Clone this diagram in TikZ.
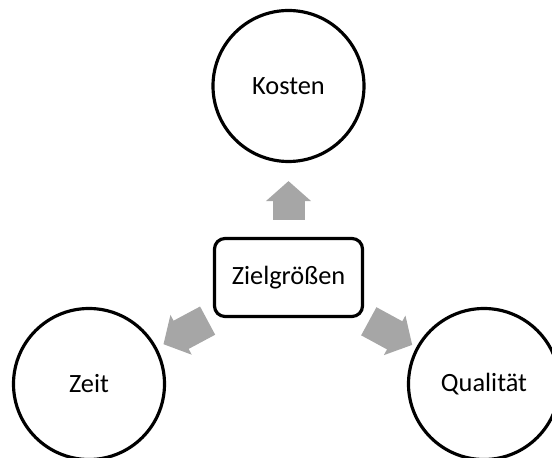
\documentclass[tikz,border=0pt]{standalone}
\usepackage{fontspec}
\setmainfont{Carlito}
\usepackage{xcolor}
\usetikzlibrary{arrows.meta}
\definecolor{pfeilgrau}{RGB}{166,166,166}

\begin{document}
\begin{tikzpicture}[x=0.03cm,y=-0.03cm,
every node/.style={font=\fontsize{22.5}{27}\selectfont},
kreis/.style={circle,draw,line width=2.7pt,inner sep=0pt,minimum size=4.53cm},
pfeil/.style={draw=pfeilgrau,line width=0.96cm,-{Triangle[width=1.32cm,length=0.6cm]}}]
\useasboundingbox (0,0) rectangle (552,458);
\node[kreis](kosten) at (288.5,86){Kosten};
\node[kreis](zeit) at (89,384){Zeit};
\node[kreis](qualitaet) at (484,384){Qualität};
\node[draw,rounded corners=9pt,line width=2.7pt,inner sep=0pt,minimum width=4.44cm,minimum height=2.34cm](ziel) at (288.5,277.5){Zielgrößen};
\draw[pfeil,shorten <=0.51cm,shorten >=0.54cm](ziel)--(kosten);
\draw[pfeil,shorten <=0.18cm,shorten >=0.22cm](ziel)--(zeit);
\draw[pfeil,shorten <=0.2cm,shorten >=0.14cm](ziel)--(qualitaet);
\end{tikzpicture}
\end{document}
